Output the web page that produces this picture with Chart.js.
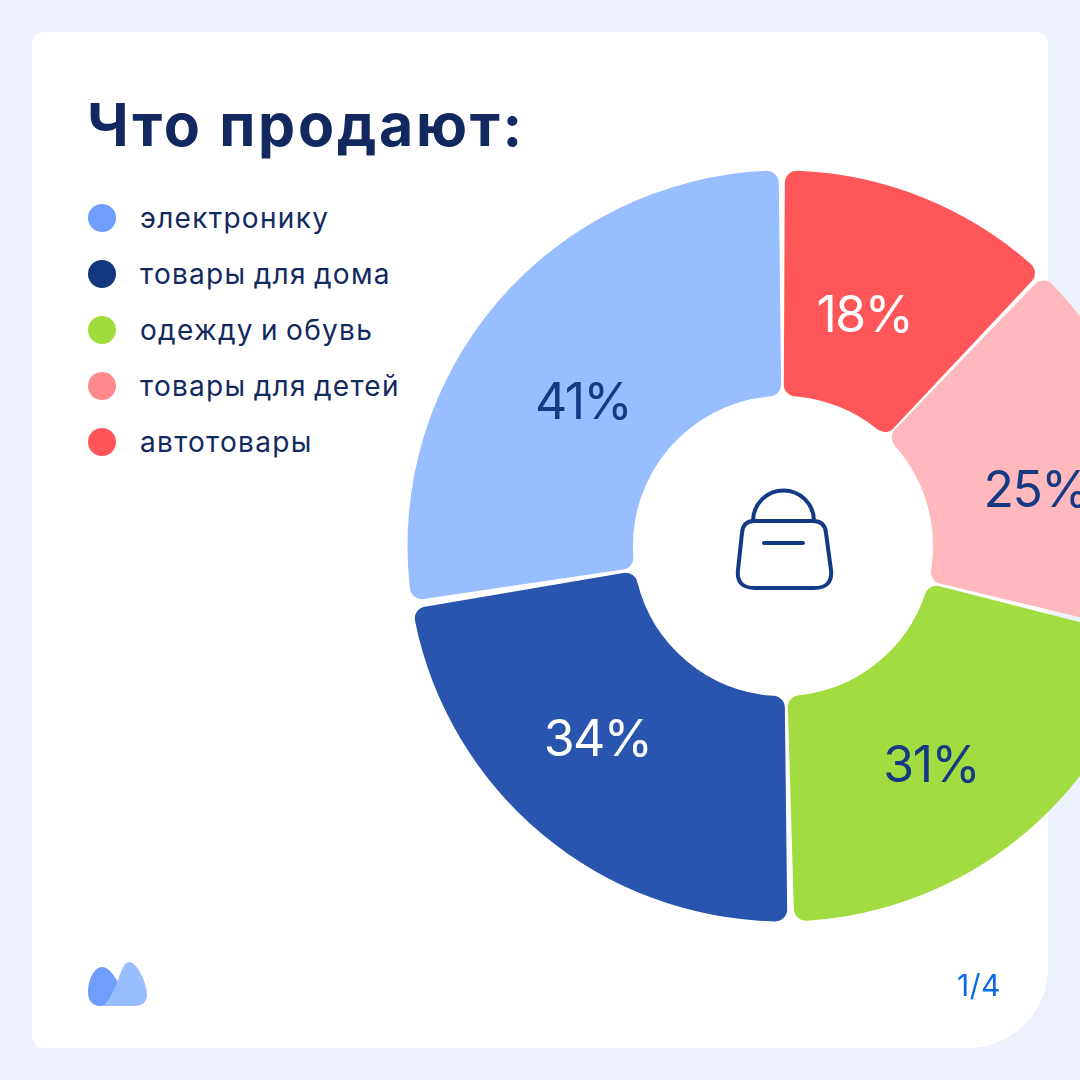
<!DOCTYPE html>
<html lang="ru">
<head>
<meta charset="utf-8">
<title>Что продают</title>
<script src="https://cdn.jsdelivr.net/npm/chart.js@4"></script>
<style>
    html, body { margin: 0; width: 1080px; height: 1080px; overflow: hidden; background: #edf1fb; }
    body { position: relative; font-family: Inter, sans-serif; color: #12295f; }
    #card { position: absolute; left: 32px; top: 32px; width: 1016px; height: 1016px; background: #fff; border-radius: 12px 12px 80px 12px; }
    #title { position: absolute; left: 87px; top: 87px; margin: 0; font-size: 59px; line-height: 76px; font-weight: 700; white-space: nowrap; letter-spacing: 2.7px; }
    #legend { position: absolute; left: 88px; top: 190px; margin: 0; padding: 0; list-style: none; }
    #legend li { position: relative; height: 56px; line-height: 56px; padding-left: 52px; font-size: 28px; white-space: nowrap; letter-spacing: 1.3px; word-spacing: -2px; }
    #legend i { position: absolute; left: 0; top: 14px; width: 28px; height: 28px; border-radius: 50%; }
    #chartBox { position: absolute; left: 403px; top: 166px; width: 760px; height: 760px; }
    #page { position: absolute; left: 957px; top: 967px; font-size: 30px; line-height: 36px; letter-spacing: 0.5px; color: #0a6be6; }
    svg { position: absolute; left: 0; top: 0; }
</style>
</head>
<body>
<div id="card"></div>
<h1 id="title">Что продают:</h1>
<ul id="legend"></ul>
<div id="chartBox"><canvas id="salesChart" width="760" height="760"></canvas></div>
<svg width="1080" height="1080" viewBox="0 0 1080 1080" fill="none">
    <path d="M753 521 A30.5 30.5 0 0 1 814 521" stroke="#153a84" stroke-width="4"/>
    <path d="M754 521 H813 Q825 521 826 533 L831 570 Q833 588 814 588 H755 Q736 588 738 570 L742 533 Q743 521 754 521 Z" stroke="#153a84" stroke-width="4"/>
    <path d="M764 543 H803" stroke="#153a84" stroke-width="4" stroke-linecap="round"/>
    <path d="M102 967 C110 967 116 978 124 993 L114 1006 H100 C92 1006 88 1000 88 992 C88 980 94 967 102 967 Z" fill="#6f9eff"/>
    <path d="M129 962 C137 962 147 983 147 995 C147 1002 142 1006 135 1006 H100 C108 1006 113 992 118 980 C121 972 124 962 129 962 Z" fill="#99beff"/>
</svg>
<div id="page">1/4</div>
<script>
const categories = ['электронику', 'товары для дома', 'одежду и обувь', 'товары для детей', 'автотовары'];
const shares = [41, 34, 31, 25, 18];

const legendColors = ['#6f9eff', '#14387f', '#a1dc3e', '#ff8a8e', '#ff5459'];
const sliceColors = ['#99beff', '#2955ae', '#a1dc41', '#ffb8bb', '#ff565a'];
const labelColors = ['#153a84', '#ffffff', '#153a84', '#153a84', '#ffffff'];
// nudges from each slice's middle, the picture doesn't centre them exactly
const labelNudges = [[0, 29], [-17, -7], [-16, 16], [1, 20], [-16, 15]];

document.getElementById('legend').innerHTML = categories
    .map((name, i) => `<li><i style="background:${legendColors[i]}"></i>${name}</li>`)
    .join('');

const sliceLabels = {
    id: 'sliceLabels',
    afterDatasetsDraw(chart) {
        const { ctx } = chart;
        const arcs = chart.getDatasetMeta(0).data;
        const count = arcs.length;
        ctx.save();
        ctx.font = '400 50px Inter, sans-serif';
        ctx.letterSpacing = '-1.5px';
        ctx.textAlign = 'center';
        ctx.textBaseline = 'middle';
        arcs.forEach((arc, i) => {
            const k = count - 1 - i;
            const pos = arc.tooltipPosition();
            ctx.fillStyle = labelColors[k];
            ctx.fillText(shares[k] + '%', pos.x + labelNudges[k][0], pos.y + labelNudges[k][1]);
        });
        ctx.restore();
    }
};

new Chart(document.getElementById('salesChart'), {
    type: 'doughnut',
    data: {
        labels: categories.slice().reverse(),
        datasets: [{
            data: shares.slice().reverse(),
            backgroundColor: sliceColors.slice().reverse(),
            borderWidth: 0,
            borderRadius: 12,
            spacing: 7
        }]
    },
    options: {
        responsive: false,
        animation: false,
        radius: 372,
        cutout: '39.4%',
        plugins: {
            legend: { display: false },
            tooltip: { enabled: false }
        }
    },
    plugins: [sliceLabels]
});
</script>
</body>
</html>
